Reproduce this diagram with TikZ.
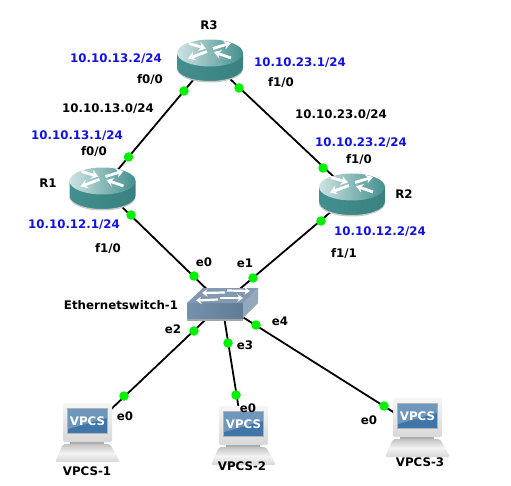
\documentclass[tikz,border=0pt]{standalone}
\usepackage{fontspec}
\setmainfont{DejaVu Sans}
\usetikzlibrary{arrows.meta}

\definecolor{routerteal}{HTML}{438F8F}
\definecolor{routerdark}{HTML}{3A8080}
\definecolor{routerlight}{HTML}{CFE3E3}
\definecolor{switchfront}{HTML}{7391AE}
\definecolor{switchtop}{HTML}{8299B0}
\definecolor{switchside}{HTML}{93A8BC}
\definecolor{pcgrey}{HTML}{D8D8D8}
\definecolor{pcscreen}{HTML}{3F75A8}
\definecolor{addrblue}{HTML}{1010E8}

\tikzset{
	link/.style={line width=1.8pt,black},
	port/.style={circle,fill=green!95!black,inner sep=0pt,minimum size=9.5pt},
	lbl/.style={font=\fontsize{11.8}{12}\selectfont\bfseries,text=black,inner sep=0pt},
	addr/.style={lbl,text=addrblue},
	flow/.style={white,line width=2.8pt,-{Stealth[length=7pt,width=9pt]}},
	swflow/.style={white,line width=2.2pt,-{Stealth[length=5.5pt,width=7.5pt]}},
	router/.pic={
		% Body and top of the cylinder
		\shade[left color=routerteal,right color=routerdark] (-33,-7) -- (-33,8) arc[start angle=180,end angle=0,x radius=33,y radius=13.5] -- (33,-7) -- cycle;
		\fill[gray!45] (-33,9) arc[start angle=180,end angle=0,x radius=33,y radius=13.5] -- (33,8) arc[start angle=0,end angle=180,x radius=33,y radius=13] -- cycle;
		\shade[left color=routerlight,middle color=routerteal,right color=routerteal] (0,-7) ellipse[x radius=33,y radius=13.5];
		% Crossing arrows
		\draw[flow] (-3,-8.5) -- (-22,-1.5);
		\draw[flow] (3,-11.5) -- (21,-17);
		\draw[flow] (-21,-16.5) -- (-4,-11.5);
		\draw[flow] (21,-2) -- (4,-8);
	},
	switchbox/.pic={
		% Shadow, front, side and top faces
		\fill[gray!70] (-35,14) rectangle (21,16.5);
		\shade[left color=switchfront,right color=switchfront!85!black] (-35,-1) rectangle (21,14);
		\fill[switchside] (21,-1) -- (36,-16) -- (36,-1) -- (21,14) -- cycle;
		\fill[switchtop] (-35,-1) -- (-19,-16) -- (36,-16) -- (21,-1) -- cycle;
		% Arrows on top
		\draw[swflow] (3,-11.5) -- (-20,-11);
		\draw[swflow] (5,-13.5) -- (28,-13);
		\draw[swflow] (-4,-4.5) -- (-26,-3.5);
		\draw[swflow] (-2,-6) -- (21,-6);
	},
	vpcs/.pic={
		% Monitor
		\shade[top color=white!75!pcgrey,bottom color=pcgrey,rounded corners=2pt] (-24,-29) rectangle (25,10);
		\fill[gray!60] (-20,-24) rectangle (21,2);
		\fill[pcscreen] (-19,-23) rectangle (20,1);
		\fill[white!25!pcscreen] (-19,-23) -- (20,-23) -- (20,-14) -- (-19,-3) -- cycle;
		\node[inner sep=0pt,text=white,font=\fontsize{11.8}{13}\selectfont\bfseries] (-text) at (0.5,-10.5) {VPCS};
		% Neck and base
		\fill[pcgrey!80!black] (-17,10) rectangle (17,14);
		\shade[top color=pcgrey!90!black,bottom color=pcgrey,middle color=white!70!pcgrey,rounded corners=2pt] (-24,12) -- (23,12) -- (33,30) -- (-32,30) -- cycle;
	},
}

\begin{document}
\begin{tikzpicture}[x=1pt,y=-1pt]
	\useasboundingbox (0,0) rectangle (511,486);
	
	% Device centres
	\coordinate (R3) at (210,60);
	\coordinate (R1) at (102.5,188);
	\coordinate (R2) at (352,194);
	\coordinate (SW) at (222,304);
	\coordinate (PC1) at (87,432);
	\coordinate (PC2) at (243,435);
	\coordinate (PC3) at (417,427);
	
	% Links
	\draw[link] (R3) -- (R1);
	\draw[link] (R3) -- (R2);
	\draw[link] (R1) -- (SW);
	\draw[link] (R2) -- (SW);
	\draw[link] (SW) -- (PC1);
	\draw[link] (SW) -- (PC2);
	\draw[link] (SW) -- (PC3);
	
	% Devices
	\pic (r3) at (R3) {router};
	\pic (r1) at (R1) {router};
	\pic (r2) at (R2) {router};
	\pic (sw) at (SW) {switchbox};
	\pic (pc1) at (PC1) {vpcs};
	\pic (pc2) at (PC2) {vpcs};
	\pic (pc3) at (PC3) {vpcs};
	
	% Port dots
	\foreach \name/\x/\y in {a/184/91,b/128.5/157,c/239/88,d/323/168,e/131/215,f/194/276,g/321/221,h/253/278,i/194/331,j/124/396,k/228/343,l/236/395,m/256/325,n/384/406}
		\node[port] (dot\name) at (\x,\y) {};
	
	% Device names
	\node[lbl] (nameR3) at (209,25) {R3};
	\node[lbl] (nameR1) at (48,183) {R1};
	\node[lbl] (nameR2) at (404,194) {R2};
	\node[lbl] (nameSW) at (121,305) {Ethernetswitch-1};
	\node[lbl] (namePC1) at (87,471) {VPCS-1};
	\node[lbl] (namePC2) at (242,466) {VPCS-2};
	\node[lbl] (namePC3) at (420,462) {VPCS-3};
	
	% Addresses
	\node[addr] (ipA) at (116,59) {10.10.13.2/24};
	\node[addr] (ipB) at (77,136) {10.10.13.1/24};
	\node[addr] (ipC) at (74,225) {10.10.12.1/24};
	\node[addr] (ipD) at (300,63) {10.10.23.1/24};
	\node[addr] (ipE) at (361,143) {10.10.23.2/24};
	\node[addr] (ipF) at (380,232) {10.10.12.2/24};
	
	% Networks
	\node[lbl] (netA) at (108,109) {10.10.13.0/24};
	\node[lbl] (netB) at (341,115) {10.10.23.0/24};
	
	% Interfaces
	\node[lbl] (ifA) at (150,80) {f0/0};
	\node[lbl] (ifB) at (94,152) {f0/0};
	\node[lbl] (ifC) at (108,249) {f1/0};
	\node[lbl] (ifD) at (281,83) {f1/0};
	\node[lbl] (ifE) at (359,160) {f1/0};
	\node[lbl] (ifF) at (344,254) {f1/1};
	\node[lbl] (ifG) at (204,262) {e0};
	\node[lbl] (ifH) at (245,263) {e1};
	\node[lbl] (ifI) at (173,329) {e2};
	\node[lbl] (ifJ) at (245,345) {e3};
	\node[lbl] (ifK) at (280,321) {e4};
	\node[lbl] (ifL) at (125,416) {e0};
	\node[lbl] (ifM) at (248,408) {e0};
	\node[lbl] (ifN) at (369,420) {e0};
\end{tikzpicture}
\end{document}
